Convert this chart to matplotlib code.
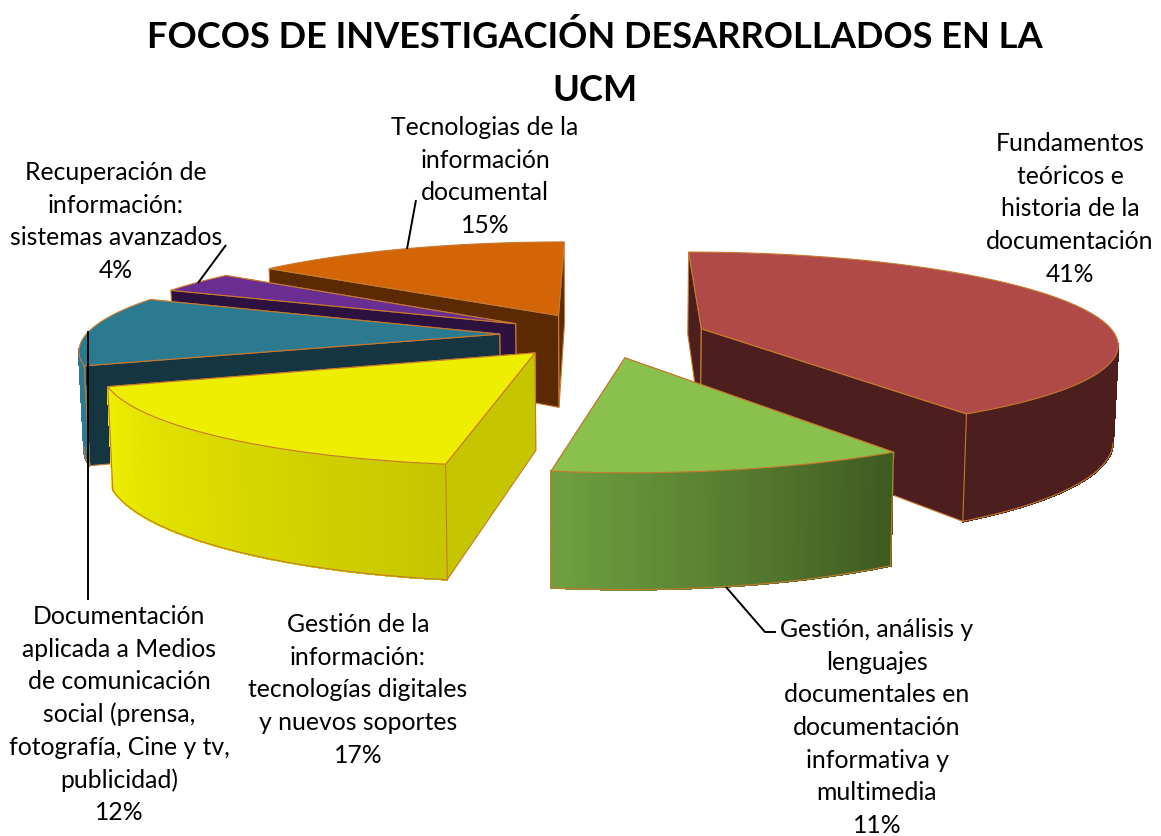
#!/usr/bin/env python3
"""Tarta 3D explotada: focos de investigación UCM, proyectada a mano con perspectiva"""
import numpy as np
import matplotlib
matplotlib.use("Agg")
import matplotlib.pyplot as plt
from matplotlib.colors import to_rgb
from matplotlib.patches import Polygon

plt.rcParams["font.family"] = ["Lato", "DejaVu Sans"]

TITLE_LINES = ["FOCOS DE INVESTIGACIÓN DESARROLLADOS EN LA", "UCM"]

shares = [41.0, 11.45, 17.1, 12.15, 3.65, 14.65]
names = [
    ["Fundamentos", "teóricos e", "historia de la", "documentación"],
    ["Gestión, análisis y", "lenguajes", "documentales en", "documentación", "informativa y", "multimedia"],
    ["Gestión de la", "información:", "tecnologías digitales", "y nuevos soportes"],
    ["Documentación", "aplicada a Medios", "de comunicación", "social (prensa,", "fotografía, Cine y tv,", "publicidad)"],
    ["Recuperación de", "información:", "sistemas avanzados"],
    ["Tecnologias de la", "información", "documental"],
]
top_colors = ["#B04A48", "#8AC14C", "#EEEE00", "#2C7A90", "#6A2D91", "#D36507"]
radial_colors = ["#4C1F1E", "#6FA040", "#C6C600", "#153540", "#2D1240", "#5B2A03"]
outer_start = ["#4C1F1E", "#3E5A20", "#C6C600", "#2C7A90", "#2D1240", "#5B2A03"]
outer_end = ["#4C1F1E", "#6FA040", "#EEEE00", "#2C7A90", "#2D1240", "#5B2A03"]
EDGE = "#C67A2E"

# label anchors: centre x, baseline of first line (px)
label_pos = [(1070, 151), (877, 637), (358, 632), (119, 624), (116, 180), (485, 135)]
LINE_STEP = 32.7
leaders = [
    [(726, 587), (765, 632), (776, 632)],
    [(88, 331), (88, 600)],
    [(198, 283), (226, 245)],
    [(407, 249), (416, 200)],
]

# projection of the pie plane to pixels
CX, CY = 603, 335
SX, SY = 414, 90
PERSP = 0.15
EXPLODE = 0.25
HEIGHT = 95
BOTTOM_SCALE = 0.99
ARC_STEPS = 90


def project(u, v, z=0.0):
    """u right, v toward the viewer, z = 0 top face and 1 bottom face."""
    w = 1 - PERSP * v
    x = SX * u / w
    y = CY + SY * v / w + z * HEIGHT / w
    return np.column_stack([CX + x * (1 - z * (1 - BOTTOM_SCALE)), y])


def wall_pts(u, v):
    return np.vstack([project(u, v), project(u[::-1], v[::-1], 1.0)])


def draw_slice(ax, i, start, stop, zorder):
    mid = np.radians((start + stop) / 2)
    ou, ov = EXPLODE * np.sin(mid), -EXPLODE * np.cos(mid)
    th = np.radians(np.linspace(start, stop, ARC_STEPS))
    au, av = ou + np.sin(th), ov - np.cos(th)

    # radial cut faces, far one first
    cuts = []
    for j in (0, -1):
        u, v = np.array([ou, au[j]]), np.array([ov, av[j]])
        cuts.append((v.mean(), u, v))
    c0, c1 = np.array(to_rgb(outer_start[i])), np.array(to_rgb(outer_end[i]))

    # outer wall only where it looks at the viewer; strips without antialias so no seams show
    front = np.cos(th) < -0.17
    strips = []
    for k in range(ARC_STEPS - 1):
        if front[k] or front[k + 1]:
            col = tuple(c0 + (c1 - c0) * k / (ARC_STEPS - 2))
            strips.append((av[k:k + 2].mean(), au[k:k + 2], av[k:k + 2], col))

    faces = [(d, "cut", u, v, radial_colors[i]) for d, u, v in cuts]
    faces += [(d, "strip", u, v, col) for d, u, v, col in strips]
    for _, kind, u, v, col in sorted(faces, key=lambda f: f[0]):
        if kind == "cut":
            ax.add_patch(Polygon(wall_pts(u, v), closed=True, fc=col, ec=EDGE, lw=0.8, zorder=zorder))
        else:
            ax.add_patch(Polygon(wall_pts(u, v), closed=True, fc=col, ec=col, lw=1.0,
                                 antialiased=False, zorder=zorder))

    # bottom rim and the two corner edges of the outer wall
    bot = project(au[front], av[front], 1.0)
    if len(bot):
        ax.plot(bot[:, 0], bot[:, 1], color=EDGE, lw=0.8, zorder=zorder)
    for j in (0, -1):
        if front[j]:
            p = np.vstack([project(au[[j]], av[[j]]), project(au[[j]], av[[j]], 1.0)])
            ax.plot(p[:, 0], p[:, 1], color=EDGE, lw=0.8, zorder=zorder)

    top = np.vstack([project(np.array([ou]), np.array([ov])), project(au, av)])
    ax.add_patch(Polygon(top, closed=True, fc=top_colors[i], ec=EDGE, lw=0.8, zorder=zorder))


def main():
    fig = plt.figure(figsize=(11.61, 8.36), dpi=100, facecolor="white")
    ax = fig.add_axes([0, 0, 1, 1])
    ax.set_xlim(0, 1161)
    ax.set_ylim(836, 0)
    ax.axis("off")

    edges = np.concatenate([[0], np.cumsum(shares)]) * 3.6
    # painter order: back slices first, green last because it sits over the red wall
    for z, i in enumerate([5, 4, 3, 2, 0, 1]):
        draw_slice(ax, i, edges[i], edges[i + 1], 2 + z)

    for pts in leaders:
        xy = np.array(pts)
        ax.plot(xy[:, 0], xy[:, 1], color="black", lw=1.4, zorder=20, solid_capstyle="butt")

    for line, y in zip(TITLE_LINES, (48, 101)):
        ax.text(595, y, line, ha="center", va="baseline", fontsize=26.1, fontweight="bold", color="black")

    for name, share, (x, y) in zip(names, shares, label_pos):
        for k, line in enumerate(name + [f"{share:.0f}%"]):
            ax.text(x, y + k * LINE_STEP, line, ha="center", va="baseline", fontsize=17.8,
                    color="black", zorder=21)

    fig.savefig("out.png", dpi=100, facecolor="white")
    plt.close(fig)


if __name__ == "__main__":
    main()
